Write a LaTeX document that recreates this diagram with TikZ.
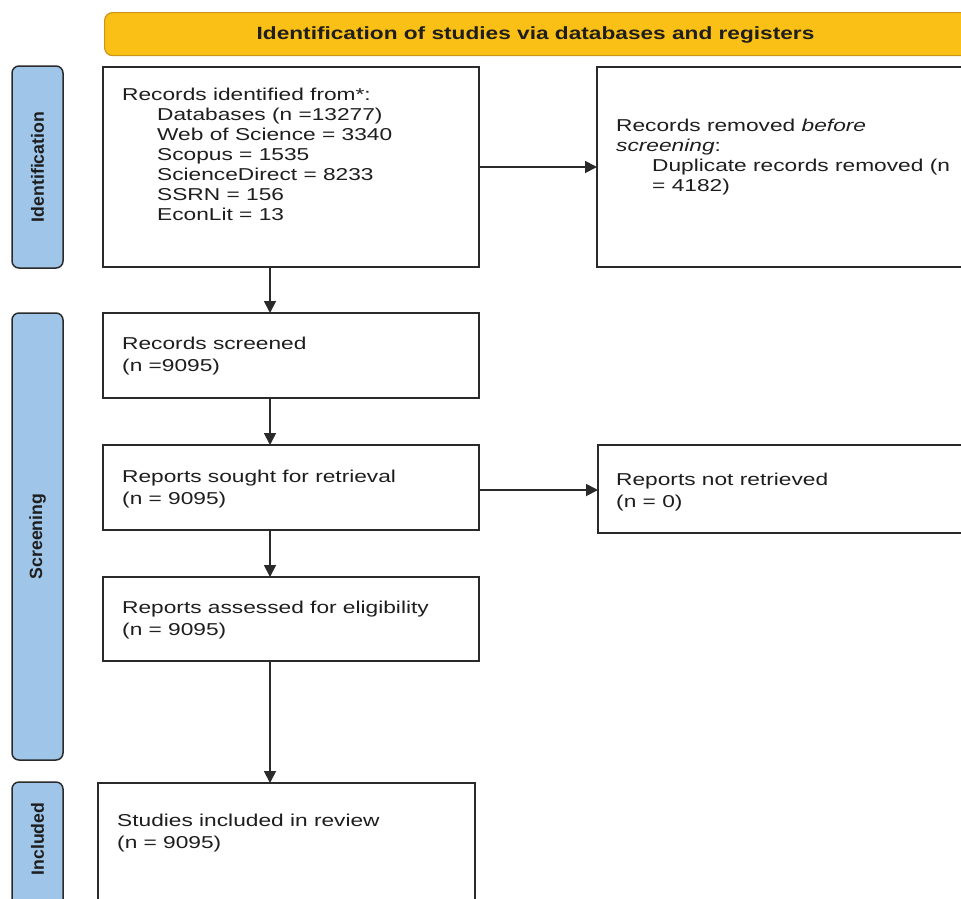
\documentclass[tikz,border=0pt]{standalone}
\usepackage{fontspec}
\setmainfont{Liberation Sans}
\newfontfamily\bodyfont[FakeStretch=1.32]{Liberation Sans}
\newfontfamily\bannerfont[FakeStretch=1.28]{Liberation Sans}
\usetikzlibrary{arrows.meta}
\definecolor{amber}{HTML}{FBC015}
\definecolor{amberdark}{HTML}{C9961A}
\definecolor{sideblue}{HTML}{9FC5E8}
\definecolor{boxline}{HTML}{2A2A2A}
\definecolor{ink}{HTML}{1E1E1E}
\tikzset{
  flowbox/.style={draw=boxline, line width=1.8pt, fill=white, rectangle, inner sep=0pt, outer sep=0pt, anchor=north west},
  sidebox/.style={draw=boxline, line width=1.5pt, fill=sideblue, rounded corners=7pt, rectangle, inner sep=0pt, outer sep=0pt, anchor=north west},
  sidelabel/.style={rotate=90, inner sep=0pt, text=ink, font=\fontsize{17.7}{20}\selectfont\bfseries},
  bodytext/.style={anchor=north west, align=left, inner sep=0pt, text=ink, font=\bodyfont\fontsize{17.2}{20}\selectfont},
  bodytwo/.style={bodytext, font=\bodyfont\fontsize{17.2}{21.5}\selectfont},
  arr/.style={line width=1.8pt, draw=boxline, -{Triangle[length=12pt,width=12pt]}}
}
\begin{document}
\begin{tikzpicture}[x=1pt, y=-1pt]
\useasboundingbox (0,0) rectangle (961,898);
\clip (0,0) rectangle (961,898);

% banner
\node[draw=amberdark, fill=amber, line width=1.2pt, rounded corners=8pt, rectangle,
      minimum width=880pt, minimum height=43pt, anchor=north west, inner sep=0pt] (banner) at (104,12) {};
\node[anchor=base, inner sep=0pt, text=ink, font=\bannerfont\bfseries\fontsize{17.7}{20}\selectfont]
  (bannertext) at (535.5,39.4) {Identification of studies via databases and registers};

% side boxes
\node[sidebox, minimum width=51pt, minimum height=202pt] (sideid) at (12,66) {};
\node[sidebox, minimum width=51pt, minimum height=447pt] (sidescr) at (12,313) {};
\node[sidebox, minimum width=51pt, minimum height=140pt] (sideinc) at (12,782) {};
\node[sidelabel] (lid) at (sideid.center) {Identification};
\node[sidelabel] (lscr) at (sidescr.center) {Screening};
\node[sidelabel] (linc) at (37.5,839) {Included};

% flow boxes
\node[flowbox, minimum width=376pt, minimum height=200pt] (ident) at (103,67) {};
\node[flowbox, minimum width=420pt, minimum height=200pt] (removed) at (597,67) {};
\node[flowbox, minimum width=376pt, minimum height=85pt] (screened) at (103,313) {};
\node[flowbox, minimum width=376pt, minimum height=85pt] (sought) at (103,445) {};
\node[flowbox, minimum width=420pt, minimum height=88pt] (notret) at (598,445) {};
\node[flowbox, minimum width=376pt, minimum height=84pt] (assessed) at (103,577) {};
\node[flowbox, minimum width=377pt, minimum height=140pt] (included) at (98,783) {};

% texts
\node[bodytext] (tident) at (122,88) {Records identified from*:\\
\hspace*{35pt}Databases (n =13277)\\
\hspace*{35pt}Web of Science = 3340\\
\hspace*{35pt}Scopus = 1535\\
\hspace*{35pt}ScienceDirect = 8233\\
\hspace*{35pt}SSRN = 156\\
\hspace*{35pt}EconLit = 13};
\node[bodytext] (tremoved) at (616,119) {Records removed \textit{before}\\
\textit{screening}:\\
\hspace*{36pt}Duplicate records removed (n\\
\hspace*{36pt}= 4182)};
\node[bodytwo] (tscreened) at (122,337) {Records screened\\(n =9095)};
\node[bodytwo] (tsought) at (122,470) {Reports sought for retrieval\\(n = 9095)};
\node[bodytwo] (tnotret) at (616,473) {Reports not retrieved\\(n = 0)};
\node[bodytwo] (tassessed) at (122,601) {Reports assessed for eligibility\\(n = 9095)};
\node[bodytwo] (tincluded) at (117,814) {Studies included in review\\(n = 9095)};

% connectors
\coordinate (ax) at (270,0);
\coordinate (ay) at (0,490);
\draw[arr] (ident.south -| ax) -- (screened.north -| ax);
\draw[arr] (screened.south -| ax) -- (sought.north -| ax);
\draw[arr] (sought.south -| ax) -- (assessed.north -| ax);
\draw[arr] (assessed.south -| ax) -- (included.north -| ax);
\draw[arr] (ident.east) -- (removed.west);
\draw[arr] (sought.east |- ay) -- (notret.west |- ay);
\end{tikzpicture}
\end{document}
